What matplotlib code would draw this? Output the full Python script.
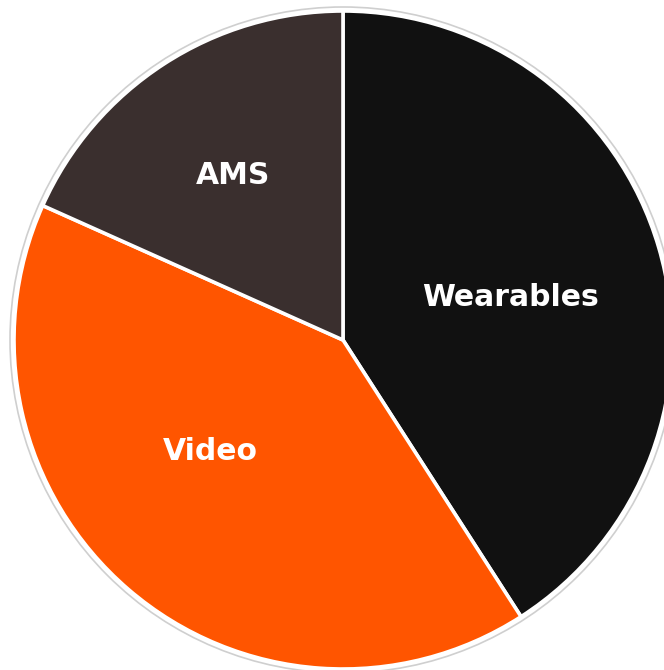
import matplotlib.pyplot as plt
from matplotlib.patches import Circle

labels = ["Wearables", "Video", "AMS"]
values = [40.9, 40.8, 18.3]
colors = ["#111111", "#FF5500", "#3A2F2E"]

fig = plt.figure(figsize=(6.64, 6.70), dpi=100)
ax = fig.add_axes([0, 0, 1, 1])

cx, cy, r = 343, 330, 329
ax.pie(values, colors=colors, startangle=90, counterclock=False,
       center=(cx, cy), radius=r,
       wedgeprops=dict(edgecolor="white", linewidth=2.6))
ax.add_patch(Circle((cx, cy), r + 4, fill=False, edgecolor="#cfcfcf", linewidth=1.2))

# label positions in pixel-like coords
ax.text(510, 372, "Wearables", color="white", fontsize=21.5, fontweight="bold",
        ha="center", va="center")
ax.text(210, 218, "Video", color="white", fontsize=21.5, fontweight="bold",
        ha="center", va="center")
ax.text(233, 495, "AMS", color="white", fontsize=21.5, fontweight="bold",
        ha="center", va="center")

ax.set_xlim(0, 664)
ax.set_ylim(0, 670)
ax.set_aspect("equal")
ax.axis("off")
fig.savefig("out.png", dpi=100)
